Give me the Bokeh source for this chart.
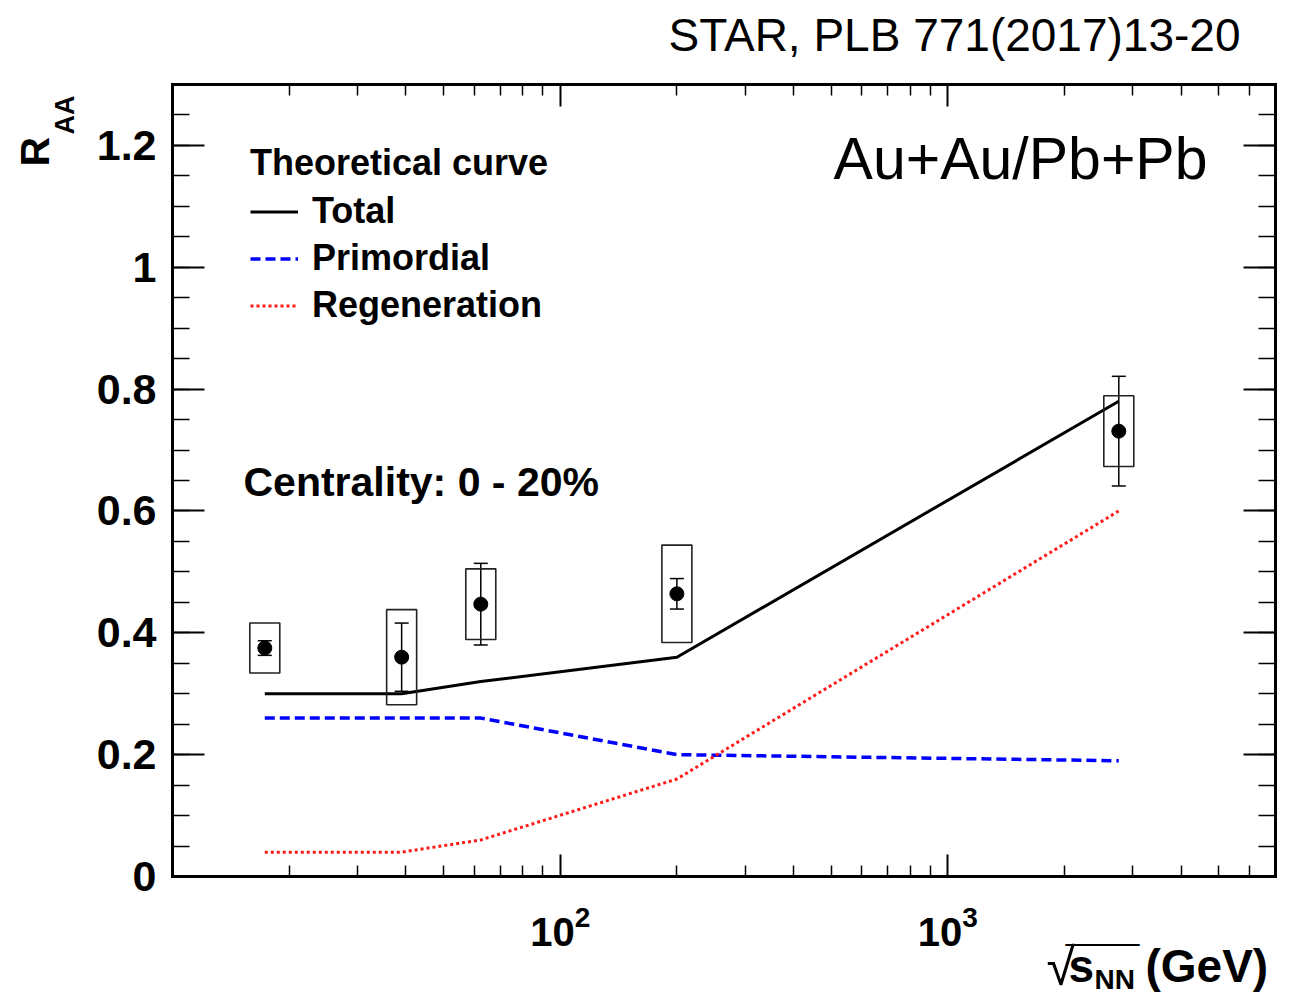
import numpy as np
from bokeh.plotting import figure
from bokeh.models import (ColumnDataSource, FixedTicker, LinearAxis, LogAxis, Label,
                          Legend, LegendItem, Whisker, TeeHead, Range1d, Grid)
from bokeh.embed import file_html
from bokeh.resources import INLINE

# J/psi R_AA in 0-20% central A+A collisions vs collision energy
sqrt_s = [17.3, 39.0, 62.4, 200.0, 2760.0]
raa = [0.375, 0.360, 0.447, 0.464, 0.731]
raa_stat = [0.012, 0.056, 0.067, 0.025, 0.090]
raa_sys = [0.041, 0.078, 0.058, 0.080, 0.058]

# transport-model curves
model_sqrt_s = [17.3, 39.0, 62.4, 200.0, 2760.0]
model_total = [0.30, 0.30, 0.32, 0.36, 0.78]
model_primordial = [0.26, 0.26, 0.26, 0.20, 0.19]
model_regeneration = [0.04, 0.04, 0.06, 0.16, 0.60]

y_ticks = [0.0, 0.2, 0.4, 0.6, 0.8, 1.0, 1.2]
y_tick_labels = ["0", "0.2", "0.4", "0.6", "0.8", "1", "1.2"]
x_ticks = [100, 1000]

X_MIN, X_MAX = 10.0, 7000.0
Y_MIN, Y_MAX = 0.0, 1.3

FONT = "Liberation Sans"
W, H = 1301, 998
# pixel box of the axes frame inside the canvas
BOX_L, BOX_R, BOX_T, BOX_B = 172, 1275, 84, 876

# the plotting frame fills the canvas; the axes are pinned to the box edges
px_per_decade = (BOX_R - BOX_L) / (np.log10(X_MAX) - np.log10(X_MIN))
x_lo = 10 ** (np.log10(X_MIN) - BOX_L / px_per_decade)
x_hi = 10 ** (np.log10(X_MAX) + (W - BOX_R) / px_per_decade)
units_per_px = (Y_MAX - Y_MIN) / (BOX_B - BOX_T)
y_lo = Y_MIN - (H - BOX_B) * units_per_px
y_hi = Y_MAX + BOX_T * units_per_px

p = figure(width=W, height=H, x_axis_type="log",
           x_axis_location=None, y_axis_location=None,
           x_range=Range1d(x_lo, x_hi), y_range=Range1d(y_lo, y_hi),
           output_backend="svg", toolbar_location=None, min_border=0)
p.title.visible = False
p.background_fill_color = "white"
p.border_fill_color = "white"
p.outline_line_color = None
# no grid lines
p.renderers = [r for r in p.renderers if not isinstance(r, Grid)]
p.center = [r for r in p.center if not isinstance(r, Grid)]

x_minor = [m * d for d in (10, 100, 1000) for m in range(2, 10) if m * d < X_MAX]
y_minor = [round(v, 2) for v in np.arange(Y_MIN, Y_MAX + 1e-6, 0.05)]
x_ticker = FixedTicker(ticks=x_ticks, minor_ticks=x_minor)
y_ticker = FixedTicker(ticks=y_ticks, minor_ticks=y_minor)


def style_axis(ax, major_in, minor_in):
    ax.axis_line_color = "black"
    ax.axis_line_width = 3
    ax.axis_line_cap = "square"
    ax.major_tick_in = major_in
    ax.major_tick_out = 0
    ax.minor_tick_in = minor_in
    ax.minor_tick_out = 0
    ax.major_tick_line_width = 2
    ax.minor_tick_line_width = 1.5
    ax.major_tick_line_color = "black"
    ax.minor_tick_line_color = "black"


def hide_labels(ax):
    ax.major_label_text_font_size = "1px"
    ax.major_label_text_alpha = 0
    ax.major_label_standoff = 0


left_ax = LinearAxis(ticker=y_ticker, fixed_location=X_MIN, bounds=(Y_MIN, Y_MAX))
left_ax.major_label_overrides = dict(zip(y_ticks, y_tick_labels))
style_axis(left_ax, 32, 17)
left_ax.major_label_text_font = FONT
left_ax.major_label_text_font_style = "bold"
left_ax.major_label_text_font_size = "43px"
left_ax.major_label_text_color = "black"
left_ax.major_label_standoff = 16
p.add_layout(left_ax, "left")

bottom_ax = LogAxis(ticker=x_ticker, fixed_location=Y_MIN, bounds=(X_MIN, X_MAX))
style_axis(bottom_ax, 22, 11)
bottom_ax.major_label_text_font = FONT
bottom_ax.major_label_text_font_style = "bold"
bottom_ax.major_label_text_font_size = "40px"
bottom_ax.major_label_text_color = "black"
bottom_ax.major_label_standoff = 28
p.add_layout(bottom_ax, "below")

right_ax = LinearAxis(ticker=y_ticker, fixed_location=X_MAX, bounds=(Y_MIN, Y_MAX))
style_axis(right_ax, 32, 17)
hide_labels(right_ax)
p.add_layout(right_ax, "right")

top_ax = LogAxis(ticker=x_ticker, fixed_location=Y_MAX, bounds=(X_MIN, X_MAX))
style_axis(top_ax, 22, 11)
hide_labels(top_ax)
p.add_layout(top_ax, "above")

# data
src = ColumnDataSource(dict(
    x=sqrt_s, y=raa,
    lo=[v - e for v, e in zip(raa, raa_stat)],
    hi=[v + e for v, e in zip(raa, raa_stat)],
    sys_h=[2 * s for s in raa_sys],
))
model = ColumnDataSource(dict(x=model_sqrt_s, total=model_total,
                              prim=model_primordial, regen=model_regeneration))

l_total = p.line("x", "total", source=model, line_color="black", line_width=3)
l_prim = p.line("x", "prim", source=model, line_color="#0000ff", line_width=3.5,
                line_dash="10 5")
l_regen = p.line("x", "regen", source=model, line_color="#ff1a1a", line_width=3,
                 line_dash="3 3")

p.rect("x", "y", width=30, height="sys_h", width_units="screen", source=src,
       fill_alpha=0, line_color="#222222", line_width=1.6)
whisk = Whisker(source=src, base="x", upper="hi", lower="lo", dimension="height",
                line_color="black", line_width=1.5)
whisk.upper_head = TeeHead(size=14, line_color="black", line_width=1.5)
whisk.lower_head = TeeHead(size=14, line_color="black", line_width=1.5)
p.add_layout(whisk)
p.scatter("x", "y", source=src, marker="circle", size=14, color="black")

# legend
legend = Legend(items=[LegendItem(label="Total", renderers=[l_total]),
                       LegendItem(label="Primordial", renderers=[l_prim]),
                       LegendItem(label="Regeneration", renderers=[l_regen])],
                title="Theoretical curve", location=(250, H - 326))
legend.title_text_font = FONT
legend.title_text_font_style = "bold"
legend.title_text_font_size = "36px"
legend.title_text_color = "black"
legend.title_standoff = 6
legend.label_text_font = FONT
legend.label_text_font_style = "bold"
legend.label_text_font_size = "36px"
legend.label_text_color = "black"
legend.glyph_width = 48
legend.glyph_height = 41
legend.label_height = 41
legend.label_standoff = 14
legend.spacing = 5
legend.padding = 0
legend.margin = 0
legend.border_line_alpha = 0
legend.background_fill_alpha = 0
p.add_layout(legend)

BASELINE_SHIFT = 0.38  # anchor sits this many ems above the drawn baseline


def add_text(text, left, baseline, size, style="normal", align="left", vertical=False):
    # place a text by canvas pixel position of its start and baseline
    s = float(size.rstrip("px"))
    if vertical:
        dx, dy = left - BASELINE_SHIFT * s, baseline
    else:
        dx, dy = left, baseline - BASELINE_SHIFT * s
    p.add_layout(Label(x=x_lo, y=y_hi, x_offset=dx, y_offset=-dy, text=text,
                       angle=np.pi / 2 if vertical else 0.0, text_font=FONT,
                       text_font_style=style, text_font_size=size,
                       text_align=align, text_baseline="alphabetic",
                       text_color="black"))


# y-axis title R_AA, reading upwards
add_text("R", 50, 166, "41px", "bold", vertical=True)
add_text("AA", 75, 134, "27px", "bold", vertical=True)

# x-axis title sqrt(s_NN) (GeV)
add_text("\u221a", 1046, 986, "52px", "normal")
add_text("\u203e" * 6, 1066, 974, "36px", "normal")
add_text("s", 1068, 983, "46px", "bold")
add_text("NN", 1094, 990, "28px", "bold")
add_text("(GeV)", 1145, 983, "46px", "bold")

# annotations
add_text("STAR, PLB 771(2017)13-20", 1240, 52, "46px", "normal", "right")
add_text("Au+Au/Pb+Pb", 1207, 181, "59px", "normal", "right")
add_text("Centrality: 0 - 20%", 243, 497, "41px", "bold")

open("out.html", "w").write(file_html(p, INLINE))
